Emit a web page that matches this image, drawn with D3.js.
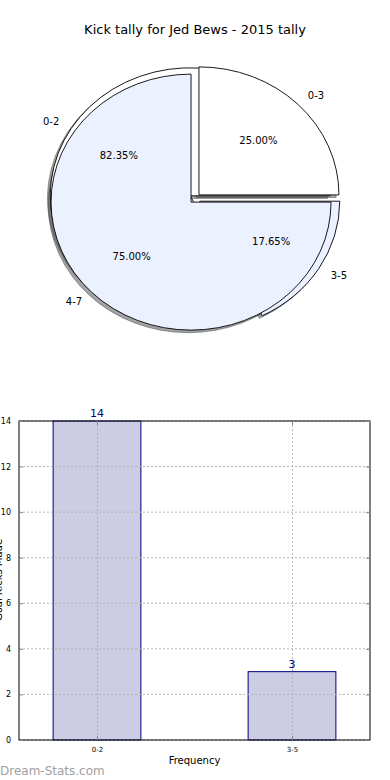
<!DOCTYPE html>
<html>
<head>
<meta charset="utf-8">
<script src="https://cdn.jsdelivr.net/npm/d3@7"></script>
<style>
  html, body { margin: 0; padding: 0; background: #fff; }
  svg { display: block; font-family: "DejaVu Sans", sans-serif; }
</style>
</head>
<body>
<svg id="chart" width="390" height="780"></svg>
<script>
// ---- data ----
const titleText = "Kick tally for Jed Bews - 2015 tally";
const pieCatsA = ["0-3", "4-7"];
const pieValsA = [25, 75];
const pieCatsB = ["0-2", "3-5"];
const pieValsB = [14, 3];
const barCats = ["0-2", "3-5"];
const barVals = [14, 3];
const yTicks = [0, 2, 4, 6, 8, 10, 12, 14];
const xAxisTitle = "Frequency";
const yAxisTitle = "Goal Kicks Made";
const watermark = "Dream-Stats.com";

const svg = d3.select("#chart");

// ---- title ----
svg.append("text").attr("x", 195).attr("y", 34).attr("text-anchor", "middle")
  .attr("font-size", 13).attr("fill", "#000").text(titleText);

// ---- pies ----
const cx = 195, cy = 198.5, rx = 140, ry = 128, explode = 0.04;
const colors = ["#ffffff", "#EBF1FE"];
const pieGen = d3.pie().sort(null).startAngle(Math.PI / 2).endAngle(Math.PI / 2 - 2 * Math.PI);
const arcGen = d3.arc().innerRadius(0).outerRadius(1);

function layout(cats, vals) {
  const total = d3.sum(vals);
  return pieGen(vals).map((d, i) => {
    const mid = (d.startAngle + d.endAngle) / 2;
    const dx = Math.sin(mid), dy = -Math.cos(mid);
    const ax = cx + explode * rx * dx, ay = cy + explode * ry * dy;
    return { d, i, cat: cats[i], pct: (100 * vals[i] / total).toFixed(2) + "%", dx, dy, ax, ay };
  });
}
const slicesA = layout(pieCatsA, pieValsA);
const slicesB = layout(pieCatsB, pieValsB);

const gPie = svg.append("g");
// shadows (drawn below all wedges)
[slicesB, slicesA].forEach(sl => {
  gPie.selectAll(null).data(sl).enter().append("path")
    .attr("d", s => arcGen(s.d))
    .attr("transform", s => `translate(${s.ax - 2.8},${s.ay + 2.6}) scale(${rx},${ry})`)
    .attr("fill", s => s.i === 0 ? "rgba(77,77,77,0.5)" : "rgba(70,72,76,0.5)")
    .attr("stroke", s => s.i === 0 ? "rgba(77,77,77,0.5)" : "rgba(70,72,76,0.5)")
    .attr("stroke-width", 1)
    .attr("vector-effect", "non-scaling-stroke");
});
// wedges: pie B first, then pie A on top
[slicesB, slicesA].forEach(sl => {
  gPie.selectAll(null).data(sl).enter().append("path")
    .attr("d", s => arcGen(s.d))
    .attr("transform", s => `translate(${s.ax},${s.ay}) scale(${rx},${ry})`)
    .attr("fill", s => colors[s.i])
    .attr("stroke", "#000")
    .attr("stroke-width", 0.9)
    .attr("stroke-linejoin", "miter")
    .attr("vector-effect", "non-scaling-stroke");
});
// labels
[slicesA, slicesB].forEach(sl => {
  sl.forEach(s => {
    gPie.append("text")
      .attr("x", s.ax + 1.1 * rx * s.dx).attr("y", s.ay + 1.1 * ry * s.dy)
      .attr("text-anchor", s.dx > 0 ? "start" : "end")
      .attr("dominant-baseline", "central")
      .attr("font-size", 10).attr("fill", "#000").text(s.cat);
    gPie.append("text")
      .attr("x", s.ax + 0.6 * rx * s.dx).attr("y", s.ay + 0.6 * ry * s.dy)
      .attr("text-anchor", "middle")
      .attr("dominant-baseline", "central")
      .attr("font-size", 10).attr("fill", "#000").text(s.pct);
  });
});

// ---- bar chart ----
const L = 19, R = 370, T = 421, B = 740;
const x = d3.scaleLinear().domain([-0.4, 1.4]).range([L, R]);
const y = d3.scaleLinear().domain([0, 14]).range([B, T]);
const barW = 0.45;
const gBar = svg.append("g");

// bars
gBar.selectAll(null).data(barVals).enter().append("rect")
  .attr("x", (d, i) => x(i - barW / 2)).attr("width", (d, i) => x(i + barW / 2) - x(i - barW / 2))
  .attr("y", d => y(d)).attr("height", d => B - y(d))
  .attr("fill", "#CCCCE5").attr("stroke", "#000080").attr("stroke-width", 1);
// grid (drawn above bars)
gBar.selectAll(null).data(yTicks).enter().append("line")
  .attr("x1", L).attr("x2", R).attr("y1", d => y(d)).attr("y2", d => y(d))
  .attr("stroke", "#b4b4b4").attr("stroke-width", 1).attr("stroke-dasharray", "2,2");
gBar.selectAll(null).data(barCats).enter().append("line")
  .attr("x1", (d, i) => Math.round(x(i)) + 0.5).attr("x2", (d, i) => Math.round(x(i)) + 0.5)
  .attr("y1", T).attr("y2", B)
  .attr("stroke", "#b4b4b4").attr("stroke-width", 1).attr("stroke-dasharray", "2,2");

// value labels
gBar.selectAll(null).data(barVals).enter().append("text")
  .attr("x", (d, i) => x(i)).attr("y", d => y(d) - 4)
  .attr("text-anchor", "middle").attr("font-size", 11).attr("fill", "#000080")
  .text(d => d);

// axes frame
gBar.append("rect").attr("x", L).attr("y", T).attr("width", R - L).attr("height", B - T)
  .attr("fill", "none").attr("stroke", "#000").attr("stroke-width", 1);

// y axis ticks (inside) left and right
const yAxisL = d3.axisLeft(y).tickValues(yTicks).tickSizeInner(-4).tickSizeOuter(0).tickPadding(8);
const gy = gBar.append("g").attr("transform", `translate(${L},0)`).call(yAxisL);
gy.select(".domain").remove();
gy.selectAll("text").attr("font-size", 8).attr("fill", "#000").attr("font-family", "DejaVu Sans");
gy.selectAll("line").attr("stroke", "#888");
const yAxisR = d3.axisRight(y).tickValues(yTicks).tickSizeInner(-4).tickSizeOuter(0).tickFormat("");
const gyr = gBar.append("g").attr("transform", `translate(${R},0)`).call(yAxisR);
gyr.select(".domain").remove();
gyr.selectAll("line").attr("stroke", "#888");

// x axis
const xAxis = d3.axisBottom(x).tickValues(barCats.map((d, i) => i))
  .tickFormat(i => barCats[i]).tickSizeInner(-4).tickSizeOuter(0).tickPadding(7);
const gx = gBar.append("g").attr("transform", `translate(0,${B})`).call(xAxis);
gx.select(".domain").remove();
gx.selectAll("text").attr("font-size", 7).attr("fill", "#000").attr("font-family", "DejaVu Sans");
gx.selectAll("line").attr("stroke", "#888");
const xAxisT = d3.axisTop(x).tickValues(barCats.map((d, i) => i)).tickSizeInner(-4).tickSizeOuter(0).tickFormat("");
const gxt = gBar.append("g").attr("transform", `translate(0,${T})`).call(xAxisT);
gxt.select(".domain").remove();
gxt.selectAll("line").attr("stroke", "#888");

// axis titles
svg.append("text").attr("x", (L + R) / 2).attr("y", 764).attr("text-anchor", "middle")
  .attr("font-size", 10).attr("fill", "#000").text(xAxisTitle);
svg.append("text").attr("transform", "translate(2,580) rotate(-90)")
  .attr("text-anchor", "middle").attr("font-size", 10).attr("fill", "#000").text(yAxisTitle);

// watermark
svg.append("text").attr("x", 0).attr("y", 775).attr("font-size", 12)
  .attr("fill", "#a0a0a0").text(watermark);
</script>
</body>
</html>
